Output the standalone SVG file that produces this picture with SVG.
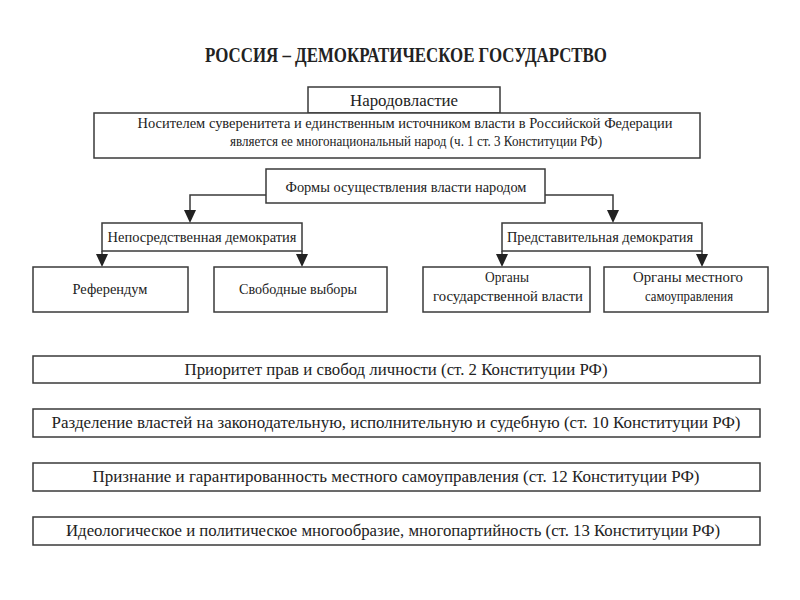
<svg xmlns="http://www.w3.org/2000/svg" width="800" height="600" viewBox="0 0 800 600">
<defs>
<style>
.box{fill:#fff;stroke:#3a3a3a;stroke-width:1.5}
.t{font-family:"Liberation Serif","Times New Roman",serif;fill:#222;text-anchor:middle}
.s13{font-size:14.5px}
.s15{font-size:16px}
.s16{font-size:16.5px}
.ttl{font-size:20px;font-weight:bold}
.ln{fill:none;stroke:#3a3a3a;stroke-width:1.5}
</style>
</defs>
<rect width="800" height="600" fill="#fff"/>
<text class="t ttl" x="406" y="62" textLength="402" lengthAdjust="spacingAndGlyphs">РОССИЯ – ДЕМОКРАТИЧЕСКОЕ ГОСУДАРСТВО</text>

<g id="connectors">
<path class="ln" d="M266,195 H190 V220"/>
<path class="ln" d="M545,195 H613 V220"/>
<path class="ln" d="M102,251 V265"/>
<path class="ln" d="M302,251 V265"/>
<path class="ln" d="M502,251 V265"/>
<path class="ln" d="M702,251 V265"/>
<path d="M184,210 L196,210 L190,223 Z" fill="#222"/>
<path d="M607,210 L619,210 L613,223 Z" fill="#222"/>
<path d="M96,254 L108,254 L102,267 Z" fill="#222"/>
<path d="M296,254 L308,254 L302,267 Z" fill="#222"/>
<path d="M496,254 L508,254 L502,267 Z" fill="#222"/>
<path d="M696,254 L708,254 L702,267 Z" fill="#222"/>
</g>

<g id="narodovlastie">
<rect class="box" x="308" y="87" width="192" height="26"/>
<text class="t s15" x="404" y="106" textLength="108" lengthAdjust="spacingAndGlyphs">Народовластие</text>
</g>
<g id="nositel">
<rect class="box" x="94" y="113" width="606" height="45"/>
<text class="t s13" x="405" y="128" textLength="535" lengthAdjust="spacingAndGlyphs">Носителем суверенитета и единственным источником власти в Российской Федерации</text>
<text class="t s13" x="416" y="146" textLength="372" lengthAdjust="spacingAndGlyphs">является ее многонациональный народ (ч. 1 ст. 3 Конституции РФ)</text>
</g>
<g id="formy">
<rect class="box" x="266" y="169" width="279" height="34"/>
<text class="t s13" x="406" y="192" textLength="241" lengthAdjust="spacingAndGlyphs">Формы осуществления власти народом</text>
</g>
<g id="neposr">
<rect class="box" x="102" y="223" width="200" height="28"/>
<text class="t s13" x="202" y="242" textLength="189" lengthAdjust="spacingAndGlyphs">Непосредственная демократия</text>
</g>
<g id="predst">
<rect class="box" x="502" y="223" width="200" height="28"/>
<text class="t s13" x="600" y="242" textLength="186" lengthAdjust="spacingAndGlyphs">Представительная демократия</text>
</g>
<g id="referendum">
<rect class="box" x="33" y="267" width="155" height="45"/>
<text class="t s13" x="110" y="294" textLength="75" lengthAdjust="spacingAndGlyphs">Референдум</text>
</g>
<g id="vybory">
<rect class="box" x="214" y="267" width="173" height="45"/>
<text class="t s13" x="298" y="294" textLength="118" lengthAdjust="spacingAndGlyphs">Свободные выборы</text>
</g>
<g id="organy-gos">
<rect class="box" x="423" y="267" width="167" height="45"/>
<text class="t s13" x="507" y="282" textLength="44" lengthAdjust="spacingAndGlyphs">Органы</text>
<text class="t s13" x="508" y="301" textLength="150" lengthAdjust="spacingAndGlyphs">государственной власти</text>
</g>
<g id="organy-mest">
<rect class="box" x="604" y="267" width="164" height="45"/>
<text class="t s13" x="688" y="282" textLength="110" lengthAdjust="spacingAndGlyphs">Органы местного</text>
<text class="t s13" x="689" y="301" textLength="88" lengthAdjust="spacingAndGlyphs">самоуправления</text>
</g>
<g id="prioritet">
<rect class="box" x="33" y="356" width="727" height="27"/>
<text class="t s16" x="396" y="375" textLength="423" lengthAdjust="spacingAndGlyphs">Приоритет прав и свобод личности (ст. 2 Конституции РФ)</text>
</g>
<g id="razdelenie">
<rect class="box" x="33" y="409" width="727" height="28"/>
<text class="t s16" x="396" y="428" textLength="689" lengthAdjust="spacingAndGlyphs">Разделение властей на законодательную, исполнительную и судебную (ст. 10 Конституции РФ)</text>
</g>
<g id="priznanie">
<rect class="box" x="33" y="463" width="727" height="28"/>
<text class="t s16" x="396" y="482" textLength="607" lengthAdjust="spacingAndGlyphs">Признание и гарантированность местного самоуправления (ст. 12 Конституции РФ)</text>
</g>
<g id="mnogoobrazie">
<rect class="box" x="33" y="517" width="727" height="28"/>
<text class="t s16" x="393" y="536" textLength="654" lengthAdjust="spacingAndGlyphs">Идеологическое и политическое многообразие, многопартийность (ст. 13 Конституции РФ)</text>
</g>
</svg>
